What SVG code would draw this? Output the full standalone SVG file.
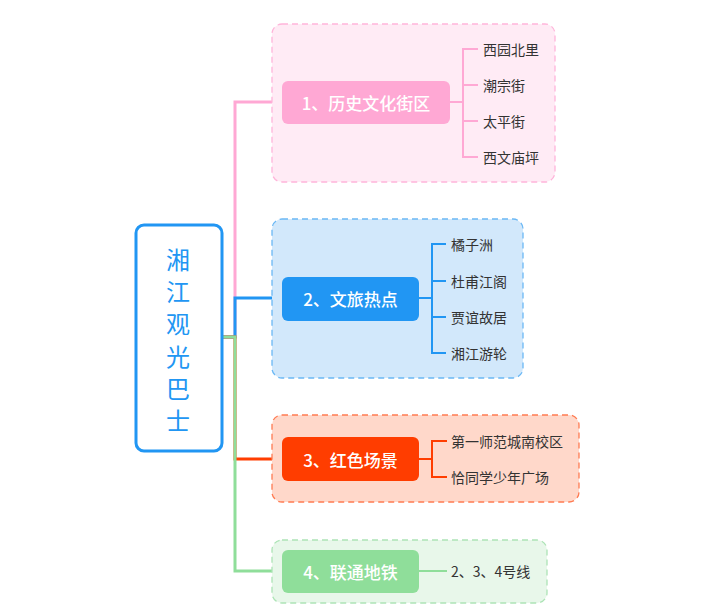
<svg xmlns="http://www.w3.org/2000/svg" width="719" height="611" viewBox="0 0 719 611">
<style>
text{font-family:"Noto Sans CJK SC","Noto Sans",sans-serif;}
.topic{font-size:17px;font-weight:500;fill:#fff;text-anchor:middle;dominant-baseline:central;}
.sub{font-size:14px;fill:#333;dominant-baseline:central;}
.root{font-size:24px;fill:#2196F3;text-anchor:middle;dominant-baseline:central;}
.b{stroke-width:1.3;stroke-dasharray:6 4;}
.c{fill:none;stroke-width:3;}
.s{fill:none;stroke-width:2;}
</style>
<rect width="719" height="611" fill="#fff"/>
<g id="connectors">
<path class="c" stroke="#FFA8D4" d="M222 337H235V102H282"/>
<path class="c" stroke="#2196F3" d="M222 337H235V298H282"/>
<path class="c" stroke="#FF3D00" d="M222 337H235V459H282"/>
<path class="c" stroke="#8FDE9A" d="M222 337H235V571H282"/>
</g>
<g id="boundary1"><rect class="b" x="272" y="24" width="283" height="158" rx="10" fill="#FFEBF5" stroke="#FFB5DA"/></g>
<g id="boundary2"><rect class="b" x="272" y="219" width="251" height="159" rx="10" fill="#D2E8FB" stroke="#6BB8F5"/></g>
<g id="boundary3"><rect class="b" x="272" y="415" width="307" height="87" rx="10" fill="#FFD8CA" stroke="#FF7B52"/></g>
<g id="boundary4"><rect class="b" x="272" y="540" width="275" height="63" rx="10" fill="#E8F7EA" stroke="#ADE4B6"/></g>
<g id="root">
<rect x="136" y="225" width="86" height="226" rx="8" fill="#fff" stroke="#2196F3" stroke-width="3"/>
<text class="root" x="178" y="258">湘</text>
<text class="root" x="178" y="290">江</text>
<text class="root" x="178" y="322">观</text>
<text class="root" x="178" y="355">光</text>
<text class="root" x="178" y="387">巴</text>
<text class="root" x="178" y="419">士</text>
</g>
<g id="topic1">
<rect x="282" y="81" width="168" height="43" rx="6" fill="#FFA8D4"/>
<text class="topic" x="366" y="102">1、历史文化街区</text>
<path class="s" stroke="#FFA8D4" d="M450 102H463M478 49H463V157H478M463 85H478M463 121H478"/>
</g>
<g id="sub1a"><text class="sub" x="483" y="49">西园北里</text></g>
<g id="sub1b"><text class="sub" x="483" y="85">潮宗街</text></g>
<g id="sub1c"><text class="sub" x="483" y="121">太平街</text></g>
<g id="sub1d"><text class="sub" x="483" y="157">西文庙坪</text></g>
<g id="topic2">
<rect x="282" y="277" width="137" height="44" rx="6" fill="#2196F3"/>
<text class="topic" x="350.5" y="298">2、文旅热点</text>
<path class="s" stroke="#2196F3" d="M419 298H432M446 244H432V353H446M432 281H446M432 317H446"/>
</g>
<g id="sub2a"><text class="sub" x="451" y="244">橘子洲</text></g>
<g id="sub2b"><text class="sub" x="451" y="281">杜甫江阁</text></g>
<g id="sub2c"><text class="sub" x="451" y="317">贾谊故居</text></g>
<g id="sub2d"><text class="sub" x="451" y="353">湘江游轮</text></g>
<g id="topic3">
<rect x="282" y="437" width="137" height="44" rx="6" fill="#FF3D00"/>
<text class="topic" x="350.5" y="459">3、红色场景</text>
<path class="s" stroke="#FF3D00" d="M419 459H432M447 441H432V477H447"/>
</g>
<g id="sub3a"><text class="sub" x="451" y="441">第一师范城南校区</text></g>
<g id="sub3b"><text class="sub" x="451" y="477">恰同学少年广场</text></g>
<g id="topic4">
<rect x="282" y="550" width="137" height="43" rx="6" fill="#8FDE9A"/>
<text class="topic" x="350.5" y="571">4、联通地铁</text>
<path class="s" stroke="#8FDE9A" d="M419 571H447"/>
</g>
<g id="sub4a"><text class="sub" x="451" y="571">2、3、4号线</text></g>
</svg>
